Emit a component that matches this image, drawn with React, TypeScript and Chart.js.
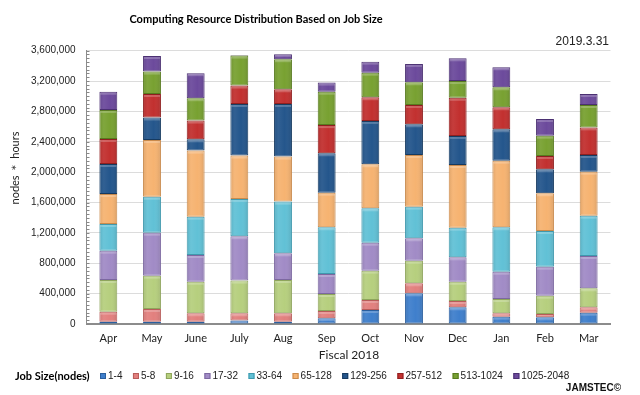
import React, { useEffect, useRef } from "react";
import { Chart, registerables } from "chart.js";

Chart.register(...registerables);

const months = ["Apr", "May", "June", "July", "Aug", "Sep", "Oct", "Nov", "Dec", "Jan", "Feb", "Mar"];
const yTicks = [0, 400000, 800000, 1200000, 1600000, 2000000, 2400000, 2800000, 3200000, 3600000];

const s1_4 = [30000, 30000, 30000, 45000, 30000, 75000, 184000, 404000, 220000, 97000, 88000, 149000];
const s5_8 = [132000, 168000, 111000, 96000, 111000, 96000, 132000, 132000, 83000, 44000, 44000, 71000];
const s9_16 = [418000, 439000, 416000, 431000, 439000, 224000, 387000, 298000, 254000, 188000, 241000, 250000];
const s17_32 = [386000, 566000, 352000, 584000, 351000, 264000, 368000, 295000, 321000, 360000, 382000, 426000];
const s33_64 = [352000, 474000, 505000, 492000, 681000, 615000, 453000, 417000, 391000, 585000, 470000, 531000];
const s65_128 = [395000, 747000, 870000, 571000, 593000, 456000, 580000, 681000, 826000, 878000, 497000, 580000];
const s129_256 = [395000, 296000, 149000, 680000, 694000, 519000, 571000, 404000, 382000, 413000, 316000, 220000];
const s257_512 = [329000, 310000, 247000, 242000, 193000, 371000, 312000, 254000, 503000, 290000, 175000, 363000];
const s513_1024 = [383000, 295000, 294000, 395000, 396000, 440000, 324000, 299000, 220000, 263000, 268000, 295000];
const s1025_2048 = [240000, 205000, 330000, 8000, 65000, 120000, 145000, 242000, 300000, 264000, 219000, 145000];

const seriesLabels = ["1-4", "5-8", "9-16", "17-32", "33-64", "65-128", "129-256", "257-512", "513-1024", "1025-2048"];
const seriesData = [s1_4, s5_8, s9_16, s17_32, s33_64, s65_128, s129_256, s257_512, s513_1024, s1025_2048];
const fillColors = ["#3f7fcc", "#e2807e", "#b6cf7e", "#a18bc6", "#61c1d6", "#f6b371", "#24568c", "#c2302f", "#78a131", "#6c4a9c"];
const edgeColors = ["#2b5f9e", "#b85c5a", "#8ea55c", "#7c68a0", "#3f98ad", "#c98a4c", "#163a60", "#8f1f1f", "#577a1f", "#4b3072"];

const titleText = "Computing Resource Distribution Based on Job Size";
const dateText = "2019.3.31";
const xTitle = "Fiscal 2018";
const yTitle = "nodes \uFF0A hours";
const legendTitle = "Job Size(nodes)";
const creditText = "JAMSTEC\u00A9";

const textPlugin = {
  id: "texts",
  afterDraw(chart: any) {
    const ctx = chart.ctx;
    ctx.save();
    ctx.fillStyle = "#000";
    ctx.textBaseline = "middle";
    ctx.textAlign = "center";
    ctx.font = "bold 11px Lato";
    ctx.fillText(titleText, 256, 19);
    ctx.font = "12px 'Liberation Sans'";
    ctx.textAlign = "right";
    ctx.fillStyle = "#222";
    ctx.fillText(dateText, 609, 42);
    ctx.textAlign = "center";
    ctx.font = "12px Lato";
    ctx.fillText(xTitle, 349, 355);
    ctx.save();
    ctx.translate(15, 168);
    ctx.rotate(-Math.PI / 2);
    ctx.font = "11px Lato";
    ctx.fillText(yTitle, 0, 0);
    ctx.restore();
    // legend
    ctx.textAlign = "left";
    ctx.font = "bold 11px Lato";
    ctx.fillStyle = "#000";
    ctx.fillText(legendTitle, 15, 376);
    let x = 100;
    ctx.font = "10px 'Liberation Sans'";
    chart.data.datasets.forEach((ds: any, i: number) => {
      ctx.fillStyle = fillColors[i];
      ctx.fillRect(x, 373, 6, 6);
      ctx.strokeStyle = edgeColors[i];
      ctx.lineWidth = 1;
      ctx.strokeRect(x + 0.5, 373.5, 5, 5);
      ctx.fillStyle = "#222";
      ctx.fillText(ds.label, x + 8, 376.5);
      x += 8 + ctx.measureText(ds.label).width + 10.5;
    });
    ctx.font = "bold 10px 'Liberation Sans'";
    ctx.textAlign = "right";
    ctx.fillStyle = "#111";
    ctx.fillText(creditText, 621, 388);
    // minor ticks
    const ys = chart.scales.y;
    const left = chart.chartArea.left;
    ctx.strokeStyle = "#888";
    ctx.lineWidth = 1;
    for (let v = 0; v <= 3600000; v += 50000) {
      const py = Math.round(ys.getPixelForValue(v)) + 0.5;
      ctx.beginPath();
      ctx.moveTo(left, py);
      ctx.lineTo(left + 3, py);
      ctx.stroke();
    }
    ctx.restore();
  },
};

const shadePlugin = {
  id: "shade",
  afterDatasetsDraw(chart: any) {
    const ctx = chart.ctx;
    ctx.save();
    chart.data.datasets.forEach((_: any, di: number) => {
      const meta = chart.getDatasetMeta(di);
      meta.data.forEach((bar: any) => {
        const w = bar.width;
        const l = bar.x - w / 2;
        const top = Math.min(bar.y, bar.base);
        const h = Math.abs(bar.base - bar.y);
        if (h < 2) return;
        const g = ctx.createLinearGradient(l, 0, l + w, 0);
        g.addColorStop(0, "rgba(0,0,0,0.10)");
        g.addColorStop(0.25, "rgba(255,255,255,0.06)");
        g.addColorStop(0.6, "rgba(255,255,255,0.0)");
        g.addColorStop(1, "rgba(0,0,0,0.12)");
        ctx.fillStyle = g;
        ctx.fillRect(l + 1, top + 1, w - 2, h - 2);
        const hl = Math.min(2, h / 3);
        ctx.fillStyle = "rgba(255,255,255,0.22)";
        ctx.fillRect(l + 1, top + 1, w - 2, hl);
      });
    });
    ctx.restore();
  },
};

export default function App() {
  const ref = useRef<HTMLCanvasElement | null>(null);
  useEffect(() => {
    if (!ref.current) return;
    const chart = new Chart(ref.current, {
      type: "bar",
      data: {
        labels: months,
        datasets: seriesData.map((d, i) => ({
          label: seriesLabels[i],
          data: d,
          backgroundColor: fillColors[i],
          borderColor: edgeColors[i],
          borderWidth: 1,
          barPercentage: 0.41,
          categoryPercentage: 1,
          borderSkipped: false,
        })),
      },
      options: {
        animation: false,
        responsive: false,
        maintainAspectRatio: false,
        layout: { padding: { left: 4, right: 29.5, top: 50.7, bottom: 0 } },
        plugins: {
          legend: { display: false },
          title: { display: false },
          tooltip: { enabled: false },
        },
        scales: {
          x: {
            stacked: true,
            grid: { display: false, drawTicks: false },
            border: { display: true, color: "#8c8c8c", width: 2 },
            ticks: { padding: 8, color: "#222", font: { family: "Lato", size: 11 } },
            afterFit(scale: any) {
              scale.height = 71;
            },
          },
          y: {
            stacked: true,
            min: 0,
            max: 3600000,
            afterBuildTicks(scale: any) {
              scale.ticks = yTicks.map((v) => ({ value: v }));
            },
            grid: { color: "#dcdcdc", drawTicks: false },
            border: { display: true, color: "#8c8c8c", width: 1 },
            ticks: {
              padding: 11,
              color: "#222",
              font: { family: "'Liberation Sans'", size: 10 },
              callback: (v: any) => Number(v).toLocaleString("en-US"),
            },
            afterFit(scale: any) {
              scale.width = 82.5;
            },
          },
        },
      },
      plugins: [shadePlugin, textPlugin],
    });
    return () => chart.destroy();
  }, []);
  return (
    <div style={{ position: "fixed", left: 0, top: 0, width: 640, height: 395, background: "#fff" }}>
      <canvas ref={ref} width={640} height={395} style={{ width: 640, height: 395 }} />
    </div>
  );
}
